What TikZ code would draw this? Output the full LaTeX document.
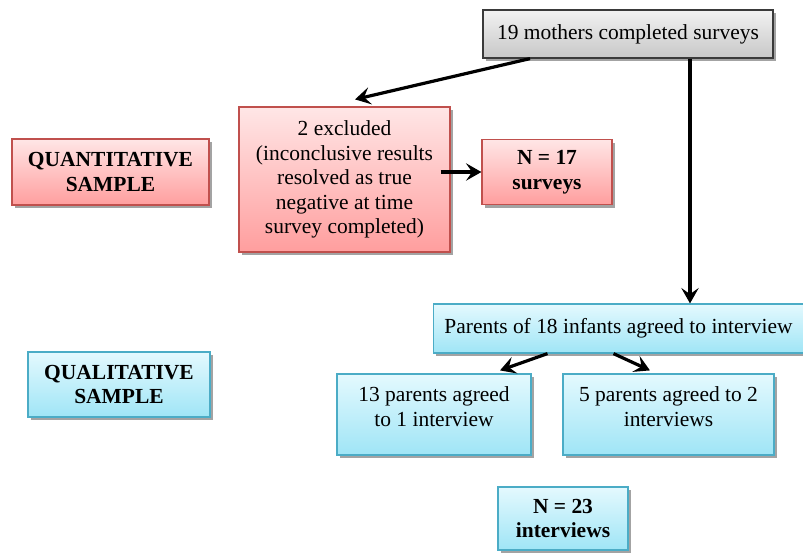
\documentclass[tikz,border=0pt]{standalone}
\usepackage{fontspec}
\setmainfont{Liberation Serif}
\usetikzlibrary{arrows.meta,shadows}
\definecolor{redline}{HTML}{C0504D}
\definecolor{redtop}{HTML}{FFE6E6}
\definecolor{redbot}{HTML}{FF9E9E}
\definecolor{blueline}{HTML}{4BACC6}
\definecolor{bluetop}{HTML}{E4F9FE}
\definecolor{bluebot}{HTML}{9FE5F6}
\definecolor{greyline}{HTML}{3A3A3A}
\begin{document}
\begin{tikzpicture}[x=0.75pt, y=-0.75pt,
    box/.style={draw, line width=0.9pt, align=center, inner sep=2pt,
        font=\fontsize{16.1}{18.4}\selectfont,
        drop shadow={shadow xshift=2pt, shadow yshift=-2.5pt, fill=black!45, opacity=0.8}},
    redbox/.style={box, draw=redline, top color=redtop, bottom color=redbot},
    bluebox/.style={box, draw=blueline, top color=bluetop, bottom color=bluebot},
    greybox/.style={box, draw=greyline, top color=black!5, bottom color=black!22},
    flow/.style={line width=2.4pt, -{Stealth[length=11.5pt, width=13pt, inset=4.5pt]}}]
    % frame
    \useasboundingbox (0,0) rectangle (803,554);

    % start
    \node[greybox, minimum width=217.5pt, minimum height=36pt] (top) at (628,34) {19 mothers completed surveys};

    % quantitative part
    \node[redbox, minimum width=147.75pt, minimum height=49.5pt] (quant) at (110.5,172) {\bfseries QUANTITATIVE\\\bfseries SAMPLE};
    \node[redbox, minimum width=158.25pt, minimum height=108.75pt] (excl) at (344.5,179.5)
        {2 excluded\\(inconclusive results\\resolved as true\\negative at time\\survey completed)};
    \node[redbox, minimum width=97.5pt, minimum height=48.75pt] (nsurv) at (547,172) {\bfseries N = 17\\\bfseries surveys};

    % qualitative part
    \node[bluebox, minimum width=136.5pt, minimum height=48.75pt] (qual) at (119,384.5) {\bfseries QUALITATIVE\\\bfseries SAMPLE};
    \node[bluebox, minimum width=277.5pt, minimum height=36.75pt] (parents) at (618.5,328.5) {Parents of 18 infants agreed to interview};
    \node[bluebox, minimum width=145.5pt, minimum height=60.75pt, text depth=12pt] (one) at (434,414.5) {13 parents agreed\\to 1 interview};
    \node[bluebox, minimum width=158.25pt, minimum height=60.75pt, text depth=12pt] (two) at (668.5,414.5) {5 parents agreed to 2\\interviews};
    \node[bluebox, minimum width=97.5pt, minimum height=47.25pt] (nint) at (563,518.5) {\bfseries N = 23\\\bfseries interviews};

    % arrows
    \draw[flow] ([xshift=-73.5pt]top.south) -- ([xshift=7.9pt, yshift=5.25pt]excl.north);
    \draw[flow] ([xshift=46.5pt]top.south) -- ([xshift=46.5pt]top.south |- parents.north);
    \draw[flow] ([xshift=-7.5pt]excl.east |- nsurv.west) -- (nsurv.west);
    \draw[flow] ([xshift=-53.25pt]parents.south) -- ([xshift=49.5pt, yshift=2.25pt]one.north);
    \draw[flow] ([xshift=-3.75pt]parents.south) -- ([xshift=-13.9pt, yshift=2.25pt]two.north);
\end{tikzpicture}
\end{document}
